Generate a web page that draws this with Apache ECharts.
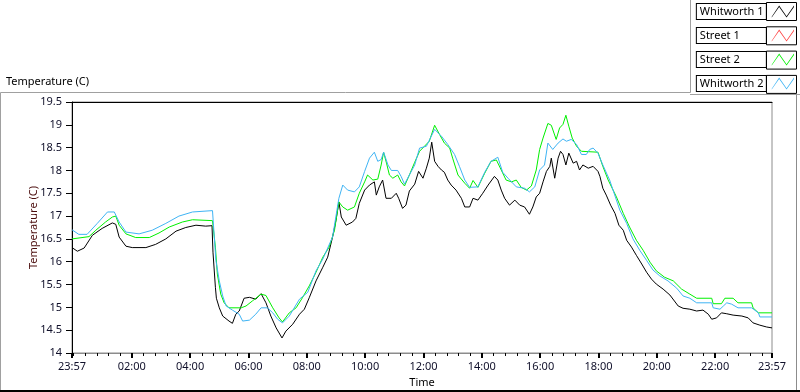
<!DOCTYPE html>
<html><head><meta charset="utf-8">
<script src="https://cdn.jsdelivr.net/npm/echarts/dist/echarts.min.js"></script>
<style>html,body{margin:0;padding:0;background:#fff}#c{width:800px;height:392px}</style>
</head><body><div id="c"></div>
<script>
// ---- data (minutes after 23:57 start, temperature in C) ----
const seriesNames = ['Whitworth 1', 'Street 1', 'Street 2', 'Whitworth 2'];
const seriesColors = ['#000000', '#ff4040', '#00f000', '#3fb4f4'];
const xTickLabels = ['23:57','02:00','04:00','06:00','08:00','10:00','12:00','14:00','16:00','18:00','20:00','22:00','23:57'];
const yTicks = [14, 14.5, 15, 15.5, 16, 16.5, 17, 17.5, 18, 18.5, 19, 19.5];

const w1Min = [0,11,25,42,62,83,90,97,111,124,152,172,193,214,234,255,275,288,290,295,297,303,310,323,330,337,344,354,365,378,389,399,409,420,432,440,454,468,478,488,502,516,526,536,543,549,554,564,577,584,591,602,612,622,626,632,639,646,657,667,672,680,687,694,705,713,722,729,735,740,746,753,760,766,773,780,790,801,808,818,825,835,845,856,869,876,883,890,900,911,921,931,941,948,955,962,969,976,983,986,993,1000,1005,1010,1016,1022,1031,1038,1044,1051,1062,1072,1082,1086,1092,1099,1108,1117,1125,1134,1141,1151,1161,1172,1182,1192,1202,1216,1230,1247,1257,1271,1285,1298,1309,1316,1326,1336,1347,1360,1378,1391,1401,1415,1429,1440];
const w1Val = [16.31,16.23,16.30,16.58,16.73,16.85,16.82,16.54,16.34,16.31,16.31,16.38,16.50,16.67,16.75,16.80,16.78,16.79,16.21,15.44,15.20,14.99,14.81,14.70,14.65,14.85,14.92,15.20,15.22,15.18,15.30,15.10,14.81,14.55,14.33,14.48,14.63,14.85,14.96,15.21,15.58,15.88,16.10,16.54,16.91,17.31,16.98,16.80,16.87,16.95,17.28,17.57,17.68,17.75,17.46,17.64,17.79,17.39,17.39,17.50,17.39,17.17,17.24,17.55,17.70,17.98,17.83,18.05,18.27,18.62,18.20,18.09,18.01,17.96,17.79,17.68,17.57,17.39,17.20,17.20,17.39,17.35,17.50,17.68,17.87,17.79,17.57,17.39,17.24,17.35,17.24,17.20,17.04,17.20,17.42,17.50,17.75,17.98,18.09,18.27,17.83,18.27,18.42,18.35,18.12,18.38,18.16,18.20,18.01,18.12,18.05,18.09,17.98,17.87,17.61,17.46,17.24,17.06,16.80,16.69,16.47,16.32,16.14,15.95,15.77,15.62,15.51,15.40,15.27,15.03,14.98,14.96,14.92,14.94,14.85,14.74,14.77,14.88,14.86,14.83,14.81,14.77,14.66,14.61,14.57,14.55];

const s1Min = [];
const s1Val = [];

const s2Min = [0,35,49,69,83,90,97,111,131,159,179,200,227,248,289,295,299,306,313,323,348,358,371,389,399,413,426,433,447,461,474,488,502,516,529,540,549,557,567,581,591,602,608,619,629,636,641,647,653,660,670,677,684,694,705,715,725,735,746,756,766,777,783,794,808,818,825,835,849,862,873,883,893,904,914,924,935,945,955,962,969,979,986,996,1003,1010,1016,1022,1029,1038,1048,1082,1092,1103,1120,1134,1147,1161,1175,1189,1202,1219,1237,1254,1271,1285,1316,1319,1336,1343,1360,1370,1398,1401,1412,1440];
const s2Val = [16.50,16.55,16.69,16.87,16.98,17.00,16.80,16.61,16.53,16.53,16.63,16.76,16.87,16.92,16.90,16.32,15.73,15.29,15.10,14.99,14.99,15.03,15.14,15.29,15.26,14.99,14.77,14.68,14.88,14.99,15.21,15.47,15.77,16.10,16.32,16.69,17.31,17.20,17.13,17.20,17.50,17.75,17.90,17.79,17.81,18.12,18.40,18.16,17.90,17.83,17.90,17.75,17.66,17.90,18.18,18.42,18.53,18.64,18.99,18.79,18.60,18.49,18.27,17.90,17.72,17.61,17.78,17.63,17.94,18.20,18.23,18.01,17.79,17.75,17.79,17.63,17.57,17.66,18.01,18.46,18.71,19.03,18.99,18.68,18.93,19.01,19.21,18.97,18.71,18.53,18.42,18.40,18.09,17.79,17.42,17.06,16.76,16.47,16.25,15.99,15.80,15.66,15.58,15.40,15.29,15.20,15.20,15.08,15.08,15.20,15.20,15.10,15.10,14.99,14.88,14.88];

const w2Min = [0,14,31,52,73,87,97,111,138,165,193,220,248,289,296,303,310,317,330,344,351,365,378,389,402,413,423,433,447,468,485,502,516,536,549,557,567,581,591,602,612,622,629,636,641,650,657,670,677,684,694,705,715,729,746,760,773,787,797,808,818,835,849,862,876,886,897,914,931,941,952,962,972,979,989,1000,1010,1017,1027,1038,1048,1058,1065,1072,1082,1092,1106,1127,1141,1154,1168,1182,1195,1209,1226,1244,1257,1271,1285,1316,1319,1333,1340,1347,1357,1370,1398,1412,1415,1440];
const w2Val = [16.70,16.60,16.60,16.84,17.09,17.09,16.87,16.65,16.61,16.69,16.84,17.00,17.09,17.12,16.03,15.58,15.25,15.03,14.94,14.85,14.70,14.72,14.85,14.99,14.99,14.88,14.74,14.66,14.81,15.18,15.33,15.80,16.06,16.54,17.39,17.68,17.57,17.53,17.64,17.98,18.27,18.40,18.20,18.24,18.40,18.12,18.00,18.00,17.87,17.70,17.90,18.12,18.49,18.53,18.90,18.75,18.57,18.35,18.09,17.79,17.63,17.64,17.96,18.20,18.29,17.96,17.83,17.64,17.61,17.53,17.64,18.01,18.12,18.60,18.46,18.60,18.69,18.64,18.68,18.57,18.35,18.35,18.46,18.49,18.38,18.12,17.79,17.13,16.84,16.50,16.25,16.03,15.82,15.69,15.58,15.42,15.25,15.20,15.10,15.10,14.99,14.96,15.03,15.10,15.07,14.99,14.99,14.88,14.79,14.79];

// ---- helpers ----
const START = 23 * 60 + 57;
const SPAN = 1440;
function labelToMin(lbl, i) {
  const p = lbl.split(':');
  let m = ((+p[0]) * 60 + (+p[1]) - START + 1440) % 1440;
  if (i === xTickLabels.length - 1 && m === 0) m = SPAN;
  return m;
}
const majorPos = xTickLabels.map(labelToMin);
const minorPos = [];
for (let m = 1440 - START; m < SPAN; m += 24) minorPos.push(m);
function fmt(v) {
  const t = (START + Math.round(v)) % 1440;
  const h = Math.floor(t / 60), mm = t % 60;
  return String(h).padStart(2, '0') + ':' + String(mm).padStart(2, '0');
}
const zip = (a, b) => a.map((x, i) => [x, b[i]]);
const seriesData = [zip(w1Min, w1Val), zip(s1Min, s1Val), zip(s2Min, s2Val), zip(w2Min, w2Val)];

const FONT = 'Noto Sans';
const chart = echarts.init(document.getElementById('c'), null, { renderer: 'canvas' });

const swatchBoxes = seriesNames.map((n, i) => ({
  type: 'rect', z: 100,
  shape: { x: 766.5, y: 2.5 + i * 24.3, width: 30, height: 18 },
  style: { fill: 'none', stroke: '#000', lineWidth: 1 }
}));

chart.setOption({
  animation: false,
  backgroundColor: '#fff',
  textStyle: { fontFamily: FONT },
  title: {
    text: 'Temperature (C)', left: 1, top: 71,
    textStyle: { fontSize: 11, fontWeight: 'normal', color: '#000', fontFamily: FONT }
  },
  legend: {
    orient: 'vertical', right: 6, top: 3, align: 'right',
    itemWidth: 24, itemHeight: 12, itemGap: 7, padding: 0,
    selectedMode: false,
    icon: 'path://M0 13 L8.67 0 L17.33 12.5 L26 0 L26 1.8 L17.33 14 L8.67 1.8 L0 14 Z',
    data: seriesNames,
    formatter: n => '{b|' + n + '}',
    textStyle: {
      fontFamily: FONT,
      rich: {
        b: { fontSize: 11, lineHeight: 13, color: '#000', fontFamily: FONT, align: 'left',
             width: 63, padding: [2, 3, 2, 3], borderColor: '#000', borderWidth: 1, backgroundColor: '#fff' }
      }
    }
  },
  grid: { left: 72, right: 28, top: 102, bottom: 39, show: true, borderColor: '#8c8c8c', borderWidth: 1,
          backgroundColor: '#fff', containLabel: false, outerBoundsMode: 'none' },
  xAxis: [
    {
      type: 'value', min: 0, max: SPAN, position: 'bottom',
      name: 'Time', nameLocation: 'middle', nameGap: 24, nameMoveOverlap: false,
      nameTextStyle: { fontSize: 11, color: '#000', fontFamily: FONT },
      axisLine: { show: true, lineStyle: { color: '#8c8c8c', width: 1 } },
      axisTick: { show: true, customValues: majorPos, length: 5, lineStyle: { color: '#000', width: 2 } },
      axisLabel: { customValues: majorPos, formatter: fmt, fontSize: 11, color: '#10102a', margin: 8, fontFamily: FONT },
      splitLine: { show: false }
    },
    {
      type: 'value', min: 0, max: SPAN, position: 'bottom',
      axisLine: { show: false },
      axisTick: { show: true, customValues: minorPos, length: 3, lineStyle: { color: '#000', width: 1 } },
      axisLabel: { show: false },
      splitLine: { show: false }
    },
    {
      type: 'value', min: 0, max: SPAN, position: 'top',
      axisLine: { show: true, lineStyle: { color: '#000', width: 1 } },
      axisTick: { show: false }, axisLabel: { show: false }, splitLine: { show: false }
    }
  ],
  yAxis: {
    type: 'value', min: yTicks[0], max: yTicks[yTicks.length - 1], interval: 0.5,
    name: 'Temperature (C)', nameLocation: 'middle', nameGap: 33, nameMoveOverlap: false,
    nameTextStyle: { fontSize: 11, color: '#4a0c0c', fontFamily: FONT },
    axisLine: { show: true, lineStyle: { color: '#000', width: 1 } },
    axisTick: { show: true, length: 6, lineStyle: { color: '#000' } },
    axisLabel: { fontSize: 11, color: '#10102a', margin: 10, fontFamily: FONT },
    splitLine: { show: false }
  },
  series: seriesNames.map((n, i) => ({
    name: n, type: 'line', xAxisIndex: 0, data: seriesData[i],
    showSymbol: false, symbol: 'none', smooth: false,
    color: seriesColors[i],
    lineStyle: { width: 1, color: seriesColors[i] },
    emphasis: { disabled: true }
  })),
  graphic: [
    { type: 'polyline', z: 100, shape: { points: [[0.5, 392], [0.5, 92.5], [690.5, 92.5], [690.5, 0]] }, style: { fill: 'none', stroke: '#a0a0a0', lineWidth: 1 } },
    { type: 'line', z: 100, shape: { x1: 690, y1: 94.5, x2: 800, y2: 94.5 }, style: { stroke: '#a0a0a0', lineWidth: 1 } },
    { type: 'line', z: 100, shape: { x1: 796.5, y1: 94.5, x2: 796.5, y2: 392 }, style: { stroke: '#8c8c8c', lineWidth: 1 } },
    { type: 'line', z: 100, shape: { x1: 0, y1: 391, x2: 800, y2: 391 }, style: { stroke: '#000', lineWidth: 2 } }
  ].concat(swatchBoxes)
});
</script></body></html>
